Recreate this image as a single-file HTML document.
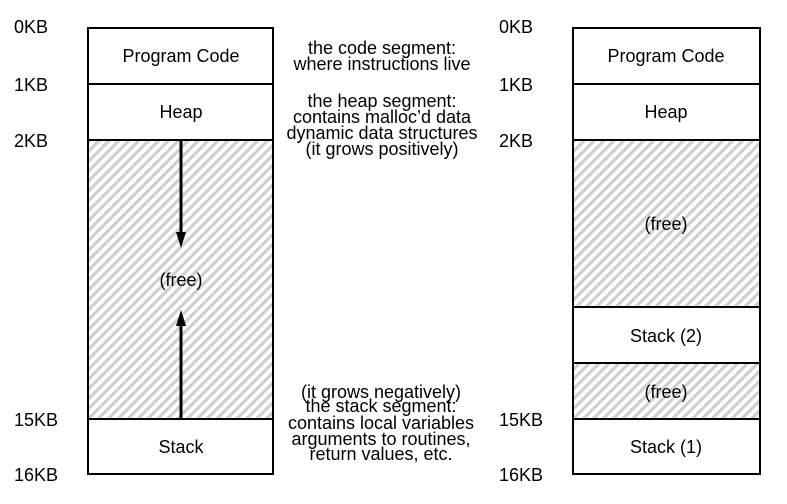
<!DOCTYPE html>
<html><head><style>body{margin:0;background:#fff}svg{display:block}text{font-family:"Liberation Sans",sans-serif;font-size:18px;fill:#000}</style></head><body>
<svg width="787" height="504" viewBox="0 0 787 504">
<defs>
<pattern id="h" width="7" height="7" patternUnits="userSpaceOnUse" patternTransform="rotate(45)">
<rect width="7" height="7" fill="#fff"/><rect width="3.2" height="7" fill="#cfcfcf"/>
</pattern>
</defs>
<g stroke="#000" stroke-width="2">
<rect x="88" y="28" width="185" height="446" fill="#fff"/>
<rect x="88" y="140" width="185" height="279" fill="url(#h)"/>
<line x1="88" y1="84" x2="273" y2="84"/>
<rect x="573" y="28" width="187" height="446" fill="#fff"/>
<rect x="573" y="140" width="187" height="167" fill="url(#h)"/>
<rect x="573" y="363" width="187" height="56" fill="url(#h)"/>
<line x1="573" y1="84" x2="760" y2="84"/>
<line x1="573" y1="307" x2="760" y2="307"/>
<line x1="181" y1="140" x2="181" y2="234" stroke-width="3"/>
<line x1="181" y1="419" x2="181" y2="324" stroke-width="3"/>
</g>
<polygon points="176,232 186,232 181,248" fill="#000"/>
<polygon points="176,326 186,326 181,310" fill="#000"/>
<g text-anchor="middle">
<text x="181" y="62">Program Code</text>
<text x="181" y="118">Heap</text>
<text x="181" y="286">(free)</text>
<text x="181" y="453">Stack</text>
<text x="666" y="62">Program Code</text>
<text x="666" y="118">Heap</text>
<text x="666" y="230">(free)</text>
<text x="666" y="342">Stack (2)</text>
<text x="666" y="398">(free)</text>
<text x="666" y="453">Stack (1)</text>
<text x="382" y="54">the code segment:</text>
<text x="382" y="70">where instructions live</text>
<text x="382" y="107">the heap segment:</text>
<text x="382" y="123">contains malloc’d data</text>
<text x="382" y="139">dynamic data structures</text>
<text x="382" y="155">(it grows positively)</text>
<text x="381" y="398">(it grows negatively)</text>
<text x="381" y="412">the stack segment:</text>
<text x="381" y="429">contains local variables</text>
<text x="381" y="445">arguments to routines,</text>
<text x="381" y="460">return values, etc.</text>
</g>
<g>
<text x="14" y="33">0KB</text>
<text x="14" y="91">1KB</text>
<text x="14" y="147">2KB</text>
<text x="14" y="426">15KB</text>
<text x="14" y="481">16KB</text>
<text x="499" y="33">0KB</text>
<text x="499" y="91">1KB</text>
<text x="499" y="147">2KB</text>
<text x="499" y="426">15KB</text>
<text x="499" y="481">16KB</text>
</g>
</svg>
</body></html>
